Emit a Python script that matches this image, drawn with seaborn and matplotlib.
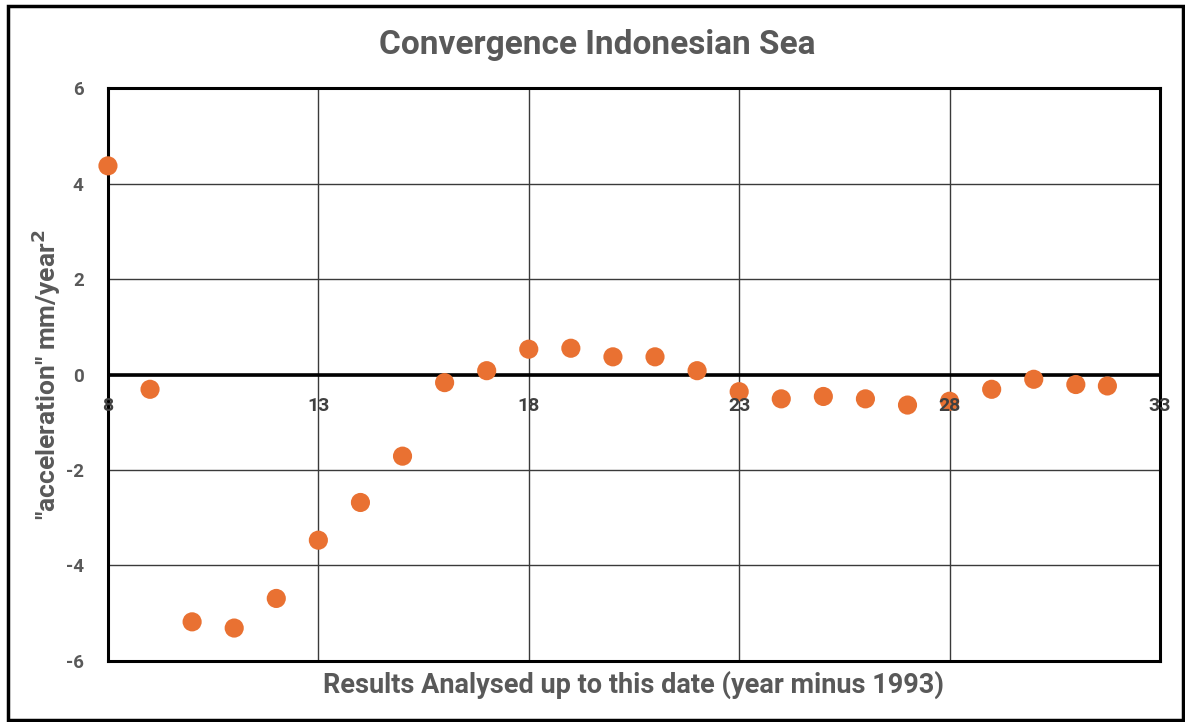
import matplotlib
matplotlib.use("Agg")
import matplotlib.pyplot as plt
import seaborn as sns
import pandas as pd

# values
years = [8, 9, 10, 11, 12, 13, 14, 15, 16, 17, 18, 19, 20, 21, 22,
         23, 24, 25, 26, 27, 28, 29, 30, 31, 31.75]
accel = [4.37, -0.31, -5.18, -5.31, -4.69, -3.47, -2.68, -1.71, -0.17, 0.08,
         0.53, 0.55, 0.37, 0.37, 0.08, -0.36, -0.51, -0.46, -0.51, -0.64,
         -0.56, -0.31, -0.10, -0.21, -0.24]
x_ticks = [8, 13, 18, 23, 28, 33]
y_ticks = [-6, -4, -2, 0, 2, 4, 6]

df = pd.DataFrame({'year': years, 'accel': accel})

sns.set_style('white')
plt.rcParams['font.family'] = ['Roboto', 'DejaVu Sans']
plt.rcParams['axes.unicode_minus'] = False
grey = '#595959'

fig = plt.figure(figsize=(11.85, 7.22), dpi=100)
ax = fig.add_axes([0.0911, 0.0845, 0.8878, 0.7936])

sns.scatterplot(data=df, x='year', y='accel', ax=ax, color='#E97132',
                s=190, edgecolor='none', zorder=5, clip_on=False)

ax.set_xlim(8, 33)
ax.set_ylim(-6, 6)
ax.set_xticks(x_ticks)
ax.set_yticks(y_ticks)
ax.grid(True, color='#3a3a3a', linewidth=1.0)
ax.axhline(0, color='black', linewidth=2.6, zorder=3)
for sp in ax.spines.values():
    sp.set_visible(True)
    sp.set_color('black')
    sp.set_linewidth(2.2)

# x labels sit under the zero line, like the Excel axis crossing
ax.tick_params(axis='x', bottom=False, labelbottom=False)
ax.tick_params(axis='y', left=False, pad=14, labelsize=13.5, labelcolor=grey)
for lab in ax.get_yticklabels():
    lab.set_fontweight('bold')
sec = ax.secondary_xaxis(0.5)
sec.xaxis.set_ticks_position('bottom')
sec.set_xticks(x_ticks)
sec.set_zorder(10)
for sp in sec.spines.values():
    sp.set_visible(False)
sec.tick_params(axis='x', length=0, pad=16, labelsize=14, labelcolor='#404040')
for lab in sec.get_xticklabels():
    lab.set_fontweight('bold')

ax.set_xlabel('Results Analysed up to this date (year minus 1993)',
              fontsize=19.5, fontweight='bold', color=grey, labelpad=7)
ax.set_ylabel('"acceleration" mm/year$^\\mathbf{2}$', fontsize=19,
              fontweight='bold', color=grey, labelpad=2)
fig.text(0.504, 0.938, 'Convergence Indonesian Sea', ha='center', va='center',
         fontsize=24, fontweight='bold', color=grey)

# outer chart border
fig.add_artist(plt.Rectangle((0.007, 0.003), 0.991, 0.988, transform=fig.transFigure,
                             fill=False, edgecolor='black', linewidth=2.5))

fig.savefig('out.png', dpi=100)
